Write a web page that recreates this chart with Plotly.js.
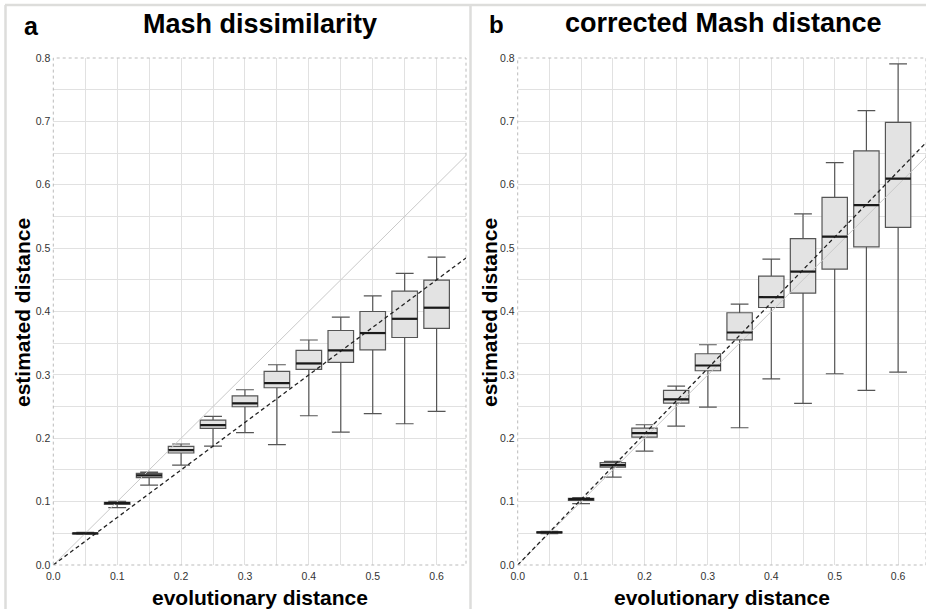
<!DOCTYPE html>
<html>
<head>
<meta charset="utf-8">
<script src="https://cdn.plot.ly/plotly-3.0.1.min.js"></script>
<style>html,body{margin:0;padding:0;background:#fff;}#chart{width:926px;height:609px;}</style>
</head>
<body>
<div id="chart"></div>
<script>
// evolutionary distance (box positions)
const evoDist = [0.05, 0.10, 0.15, 0.20, 0.25, 0.30, 0.35, 0.40, 0.45, 0.50, 0.55, 0.60];

// Panel a: Mash dissimilarity
const mashLower  = [0.0485, 0.0904, 0.126, 0.1577, 0.1877, 0.209, 0.1898, 0.2355, 0.2098, 0.2387, 0.2229, 0.2424];
const mashQ1     = [0.0490, 0.0957, 0.138, 0.1767, 0.2156, 0.2497, 0.2797, 0.3086, 0.3197, 0.3396, 0.359, 0.3733];
const mashMedian = [0.0500, 0.0978, 0.1415, 0.1814, 0.2208, 0.255, 0.287, 0.318, 0.3386, 0.366, 0.3885, 0.406];
const mashQ3     = [0.0505, 0.0990, 0.1446, 0.1872, 0.2287, 0.267, 0.3055, 0.3386, 0.370, 0.400, 0.432, 0.4495];
const mashUpper  = [0.0515, 0.1005, 0.1467, 0.1909, 0.2345, 0.2765, 0.316, 0.355, 0.391, 0.4248, 0.460, 0.4858];

// Panel b: corrected Mash distance
const corrLower  = [0.0495, 0.0967, 0.1386, 0.1797, 0.219, 0.249, 0.2166, 0.2938, 0.2549, 0.3018, 0.2754, 0.3043];
const corrQ1     = [0.0505, 0.1019, 0.1545, 0.2017, 0.2554, 0.3065, 0.3553, 0.4063, 0.429, 0.467, 0.502, 0.5328];
const corrMedian = [0.0515, 0.1040, 0.1576, 0.2080, 0.2612, 0.3148, 0.3669, 0.4226, 0.463, 0.518, 0.5678, 0.6098];
const corrQ3     = [0.0525, 0.1050, 0.1614, 0.2160, 0.2754, 0.3333, 0.398, 0.4557, 0.515, 0.580, 0.6534, 0.6985];
const corrUpper  = [0.0530, 0.1062, 0.1634, 0.2213, 0.2822, 0.3475, 0.4115, 0.4825, 0.554, 0.635, 0.717, 0.7907];

// reference lines: identity and expected-value slope per panel
const refX = [0, 0.66];
const identitySlope = 1.0;
const expectedSlopeA = 0.75;
const expectedSlopeB = 1.035;

const xTickVals = [0, 0.1, 0.2, 0.3, 0.4, 0.5, 0.6];
const xTickText = ["0.0", "0.1", "0.2", "0.3", "0.4", "0.5", "0.6"];
const yTickVals = [0, 0.1, 0.2, 0.3, 0.4, 0.5, 0.6, 0.7, 0.8];
const yTickText = ["0.0", "0.1", "0.2", "0.3", "0.4", "0.5", "0.6", "0.7", "0.8"];

const BOX_W = 0.04;
const FONT = "Liberation Sans, Arial, Helvetica, sans-serif";

function boxTrace(xa, ya, lo, q1, med, q3, hi) {
  return {
    type: "box", xaxis: xa, yaxis: ya,
    x: evoDist, lowerfence: lo, q1: q1, median: med, q3: q3, upperfence: hi,
    width: BOX_W, whiskerwidth: 0.7,
    fillcolor: "#e3e3e3",
    line: {color: "#555555", width: 1.2},
    boxpoints: false, hoverinfo: "skip", showlegend: false
  };
}
function medianTrace(xa, ya, med) {
  const xs = [], ys = [];
  evoDist.forEach((x, i) => { xs.push(x - BOX_W/2, x + BOX_W/2, null); ys.push(med[i], med[i], null); });
  return {type: "scatter", mode: "lines", xaxis: xa, yaxis: ya, x: xs, y: ys,
          line: {color: "#1a1a1a", width: 2.2}, hoverinfo: "skip", showlegend: false};
}
function lineTrace(xa, ya, slope, style) {
  return {type: "scatter", mode: "lines", xaxis: xa, yaxis: ya,
          x: refX, y: refX.map(v => v * slope), line: style, hoverinfo: "skip", showlegend: false};
}

const grayLine = {color: "#c9c9c9", width: 1};
const dashLine = {color: "#222222", width: 1.3, dash: "4px,3px"};

const data = [
  lineTrace("x", "y", identitySlope, grayLine),
  lineTrace("x", "y", expectedSlopeA, dashLine),
  boxTrace("x", "y", mashLower, mashQ1, mashMedian, mashQ3, mashUpper),
  medianTrace("x", "y", mashMedian),
  lineTrace("x2", "y2", identitySlope, grayLine),
  lineTrace("x2", "y2", expectedSlopeB, dashLine),
  boxTrace("x2", "y2", corrLower, corrQ1, corrMedian, corrQ3, corrUpper),
  medianTrace("x2", "y2", corrMedian)
];

const W = 926, H = 609;
const px = v => v / W;
const py = v => 1 - v / H;

function xAxis(domain, rmax, anchor) {
  return {domain: domain, range: [0, rmax], anchor: anchor,
    tickvals: xTickVals, ticktext: xTickText, ticks: "", showline: false, zeroline: false,
    ticklabelstandoff: 3,
    showgrid: true, gridcolor: "#e1e1e1", gridwidth: 1,
    minor: {dtick: 0.05, tick0: 0, showgrid: true, gridcolor: "#e1e1e1", gridwidth: 1},
    tickfont: {family: FONT, size: 10.5, color: "#333"}, automargin: false, fixedrange: true};
}
function yAxis(anchor) {
  return {domain: [py(565), py(58)], range: [0, 0.8], anchor: anchor,
    tickvals: yTickVals, ticktext: yTickText, ticks: "", showline: false, zeroline: false,
    ticklabelstandoff: 2,
    showgrid: true, gridcolor: "#e1e1e1", gridwidth: 1,
    minor: {dtick: 0.05, tick0: 0, showgrid: true, gridcolor: "#e1e1e1", gridwidth: 1},
    tickfont: {family: FONT, size: 10.5, color: "#333"}, automargin: false, fixedrange: true};
}

const frameColor = "#dddddb";
const layout = {
  width: W, height: H,
  margin: {l: 0, r: 0, t: 0, b: 0},
  paper_bgcolor: "#ffffff", plot_bgcolor: "#ffffff",
  showlegend: false,
  xaxis: xAxis([px(53.3), px(466)], 0.646, "y"),
  yaxis: yAxis("x"),
  xaxis2: xAxis([px(517.7), 1], 0.644, "y2"),
  yaxis2: yAxis("x2"),
  shapes: [
    {type: "rect", xref: "x domain", yref: "y domain", x0: 0, x1: 1, y0: 0, y1: 1,
     line: {color: "#bbbbbb", width: 1, dash: "dot"}, layer: "above"},
    {type: "rect", xref: "x2 domain", yref: "y2 domain", x0: 0, x1: 1, y0: 0, y1: 1,
     line: {color: "#bbbbbb", width: 1, dash: "dot"}, layer: "above"},
    {type: "line", xref: "paper", yref: "paper", x0: px(5), x1: 1, y0: py(5), y1: py(5),
     line: {color: frameColor, width: 2.5}},
    {type: "line", xref: "paper", yref: "paper", x0: px(5.5), x1: px(5.5), y0: 0, y1: py(5),
     line: {color: frameColor, width: 2.5}},
    {type: "line", xref: "paper", yref: "paper", x0: px(470.5), x1: px(470.5), y0: 0, y1: py(5),
     line: {color: frameColor, width: 2.5}}
  ],
  annotations: [
    {text: "<b>a</b>", x: px(31.5), y: py(26), xref: "paper", yref: "paper", showarrow: false,
     xanchor: "center", yanchor: "middle", font: {family: FONT, size: 25, color: "#000"}},
    {text: "<b>Mash dissimilarity</b>", x: px(259.7), y: py(24), xref: "paper", yref: "paper", showarrow: false,
     xanchor: "center", yanchor: "middle", font: {family: FONT, size: 27, color: "#000"}},
    {text: "<b>b</b>", x: px(496), y: py(25), xref: "paper", yref: "paper", showarrow: false,
     xanchor: "center", yanchor: "middle", font: {family: FONT, size: 24, color: "#000"}},
    {text: "<b>corrected Mash distance</b>", x: px(723.7), y: py(23), xref: "paper", yref: "paper", showarrow: false,
     xanchor: "center", yanchor: "middle", font: {family: FONT, size: 27, color: "#000"}},
    {text: "<b>evolutionary distance</b>", x: px(259.5), y: py(597), xref: "paper", yref: "paper", showarrow: false,
     xanchor: "center", yanchor: "middle", font: {family: FONT, size: 21, color: "#000"}},
    {text: "<b>evolutionary distance</b>", x: px(722), y: py(597), xref: "paper", yref: "paper", showarrow: false,
     xanchor: "center", yanchor: "middle", font: {family: FONT, size: 21, color: "#000"}},
    {text: "<b>estimated distance</b>", x: px(22), y: py(313), xref: "paper", yref: "paper", showarrow: false,
     textangle: -90, xanchor: "center", yanchor: "middle", font: {family: FONT, size: 21, color: "#000"}},
    {text: "<b>estimated distance</b>", x: px(489), y: py(313), xref: "paper", yref: "paper", showarrow: false,
     textangle: -90, xanchor: "center", yanchor: "middle", font: {family: FONT, size: 21, color: "#000"}}
  ]
};

Plotly.newPlot("chart", data, layout, {displayModeBar: false, staticPlot: true});
</script>
</body>
</html>
